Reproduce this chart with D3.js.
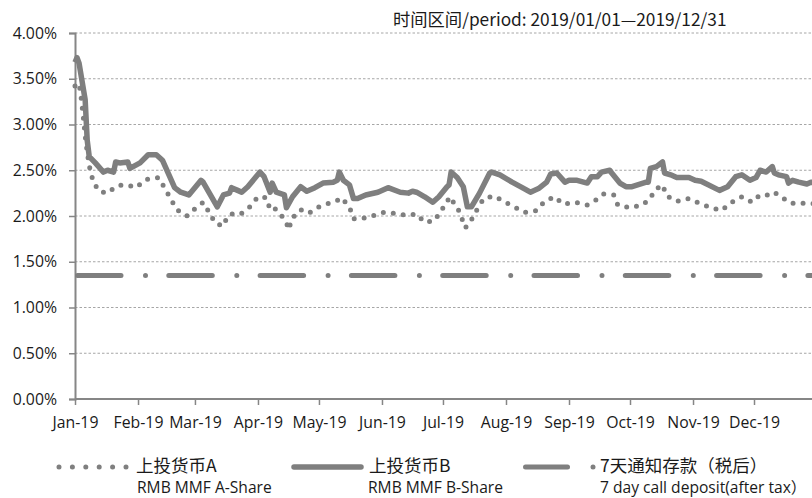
<!DOCTYPE html>
<html>
<head>
<meta charset="utf-8">
<script src="https://cdn.jsdelivr.net/npm/d3@7"></script>
<style>
  body { margin: 0; background: #fff; }
  svg { display: block; }
  text { font-family: "Open Sans", "Noto Sans CJK SC", sans-serif; fill: #1a1a1a; }
  .cjk { font-family: "Noto Sans CJK SC", sans-serif; }
</style>
</head>
<body>
<script>
const W = 812, H = 498;
const plotLeft = 75, plotRight = 815, plotTop = 33, plotBottom = 399;
const grey = "#7f7f7f";

// 上投货币A (dotted)
const datesA = ["2019-01-01","2019-01-03","2019-01-04","2019-01-05","2019-01-06","2019-01-07","2019-01-08","2019-01-10",
  "2019-01-13","2019-01-17","2019-01-21","2019-01-24","2019-01-28","2019-01-31","2019-02-05","2019-02-11","2019-02-14",
  "2019-02-17","2019-02-20","2019-02-25","2019-03-01","2019-03-05","2019-03-08","2019-03-11","2019-03-15","2019-03-17",
  "2019-03-21","2019-03-24","2019-03-28","2019-04-01","2019-04-05","2019-04-07","2019-04-09","2019-04-12","2019-04-15",
  "2019-04-16","2019-04-18","2019-04-22","2019-04-26","2019-05-01","2019-05-06","2019-05-10","2019-05-12","2019-05-16",
  "2019-05-18","2019-05-22","2019-05-27","2019-06-02","2019-06-07","2019-06-12","2019-06-18","2019-06-22","2019-06-27",
  "2019-06-30","2019-07-03","2019-07-04","2019-07-08","2019-07-10","2019-07-12","2019-07-15","2019-07-18","2019-07-21",
  "2019-07-26","2019-07-31","2019-08-05","2019-08-10","2019-08-16","2019-08-20","2019-08-25","2019-08-29","2019-09-04",
  "2019-09-10","2019-09-14","2019-09-18","2019-09-23","2019-09-25","2019-10-01","2019-10-07","2019-10-11","2019-10-13",
  "2019-10-17","2019-10-19","2019-10-24","2019-10-30","2019-11-04","2019-11-10","2019-11-15","2019-11-20","2019-11-25",
  "2019-11-30","2019-12-04","2019-12-09","2019-12-11","2019-12-15","2019-12-19","2019-12-24","2019-12-29","2019-12-31"];
const valuesA = [3.42,3.45,3.30,3.10,2.88,2.70,2.55,2.37,
  2.27,2.25,2.32,2.34,2.33,2.31,2.40,2.42,2.31,
  2.19,2.07,2.00,2.08,2.15,2.04,1.92,1.89,2.00,
  2.04,2.03,2.10,2.21,2.20,2.07,2.09,2.02,1.93,
  1.85,1.98,2.07,2.03,2.10,2.14,2.17,2.20,2.10,
  1.97,1.97,2.00,2.04,2.03,2.01,2.02,1.93,1.95,
  2.06,2.14,2.21,2.10,1.99,1.87,1.96,2.08,2.19,
  2.22,2.16,2.10,2.04,2.06,2.16,2.21,2.13,2.15,
  2.12,2.17,2.24,2.23,2.12,2.09,2.12,2.19,2.28,
  2.34,2.22,2.16,2.19,2.14,2.09,2.06,2.15,2.21,
  2.15,2.23,2.23,2.26,2.20,2.14,2.14,2.14,2.13];

// 上投货币B (solid)
const datesB = ["2019-01-01","2019-01-02","2019-01-03","2019-01-06","2019-01-07","2019-01-08","2019-01-11","2019-01-15",
  "2019-01-17","2019-01-20","2019-01-21","2019-01-23","2019-01-27","2019-01-28","2019-02-02","2019-02-06","2019-02-10",
  "2019-02-13","2019-02-19","2019-02-22","2019-02-26","2019-03-04","2019-03-05","2019-03-12","2019-03-15","2019-03-18",
  "2019-03-19","2019-03-22","2019-03-24","2019-03-27","2019-04-02","2019-04-04","2019-04-07","2019-04-08","2019-04-10",
  "2019-04-14","2019-04-15","2019-04-18","2019-04-22","2019-04-25","2019-04-29","2019-05-03","2019-05-08","2019-05-10",
  "2019-05-11","2019-05-13","2019-05-16","2019-05-18","2019-05-20","2019-05-24","2019-05-30","2019-06-04","2019-06-10",
  "2019-06-14","2019-06-16","2019-06-18","2019-06-22","2019-06-26","2019-06-29","2019-07-03","2019-07-04","2019-07-05",
  "2019-07-08","2019-07-11","2019-07-13","2019-07-15","2019-07-19","2019-07-24","2019-07-25","2019-07-29","2019-08-04",
  "2019-08-09","2019-08-13","2019-08-17","2019-08-21","2019-08-23","2019-08-26","2019-08-30","2019-09-01","2019-09-05",
  "2019-09-10","2019-09-12","2019-09-15","2019-09-17","2019-09-21","2019-09-22","2019-09-26","2019-09-29","2019-10-02",
  "2019-10-09","2019-10-10","2019-10-11","2019-10-14","2019-10-17","2019-10-18","2019-10-21","2019-10-24","2019-10-30",
  "2019-11-02","2019-11-05","2019-11-14","2019-11-18","2019-11-22","2019-11-25","2019-11-29","2019-12-02","2019-12-04",
  "2019-12-07","2019-12-10","2019-12-11","2019-12-13","2019-12-17","2019-12-18","2019-12-20","2019-12-23","2019-12-27",
  "2019-12-29","2019-12-31"];
const valuesB = [3.68,3.73,3.67,3.27,2.83,2.65,2.58,2.48,
  2.50,2.48,2.59,2.58,2.59,2.52,2.58,2.67,2.67,
  2.61,2.31,2.26,2.23,2.39,2.37,2.10,2.23,2.25,
  2.31,2.28,2.26,2.32,2.48,2.43,2.26,2.36,2.26,
  2.23,2.09,2.21,2.32,2.27,2.31,2.36,2.37,2.39,
  2.48,2.39,2.34,2.19,2.19,2.23,2.26,2.31,2.26,
  2.25,2.27,2.26,2.21,2.15,2.21,2.32,2.34,2.48,
  2.42,2.32,2.10,2.10,2.25,2.47,2.48,2.45,2.37,
  2.31,2.26,2.30,2.37,2.46,2.47,2.37,2.39,2.39,
  2.36,2.43,2.43,2.48,2.50,2.47,2.36,2.32,2.32,
  2.37,2.37,2.52,2.54,2.59,2.47,2.45,2.42,2.42,
  2.39,2.38,2.28,2.32,2.43,2.45,2.39,2.42,2.50,
  2.48,2.54,2.47,2.45,2.43,2.36,2.39,2.37,2.35,
  2.37,2.36];

// 7天通知存款（税后）
const depositRate = 1.35;
const depositDates = ["2019-01-01", "2019-12-31"];

const yTicks = [0, 0.5, 1, 1.5, 2, 2.5, 3, 3.5, 4];
const monthTicks = ["2019-01-01","2019-02-01","2019-03-01","2019-04-01","2019-05-01","2019-06-01",
  "2019-07-01","2019-08-01","2019-09-01","2019-10-01","2019-11-01","2019-12-01"];
const monthLabels = ["Jan-19","Feb-19","Mar-19","Apr-19","May-19","Jun-19",
  "Jul-19","Aug-19","Sep-19","Oct-19","Nov-19","Dec-19"];

const parse = d3.timeParse("%Y-%m-%d");

const x = d3.scaleTime()
  .domain([parse("2019-01-01"), parse("2019-12-31")])
  .range([plotLeft, plotRight]);
const y = d3.scaleLinear().domain([0, 4]).range([plotBottom, plotTop]);

const svg = d3.select("body").append("svg")
  .attr("width", W)
  .attr("height", H);

// gridlines
svg.append("g")
  .selectAll("line")
  .data(yTicks.filter(d => d > 0))
  .join("line")
  .attr("x1", plotLeft).attr("x2", W)
  .attr("y1", d => y(d)).attr("y2", d => y(d))
  .attr("stroke", "#a6a6a6")
  .attr("stroke-width", 1)
  .attr("stroke-dasharray", "2.5 2");

// y axis
const yAxis = svg.append("g")
  .attr("transform", `translate(${plotLeft},0)`)
  .call(d3.axisLeft(y).tickValues(yTicks).tickSize(6).tickPadding(12)
    .tickFormat(d => d.toFixed(2) + "%"));
yAxis.select(".domain").attr("stroke", "#868686").attr("stroke-width", 2);
yAxis.selectAll(".tick line").attr("stroke", "#868686").attr("stroke-width", 1.5);
yAxis.selectAll(".tick text").attr("font-size", 15.8).attr("fill", "#1a1a1a")
  .attr("font-family", "Open Sans");

// x axis
const xAxis = svg.append("g")
  .attr("transform", `translate(0,${plotBottom})`)
  .call(d3.axisBottom(x).tickValues(monthTicks.map(parse)).tickSize(6).tickPadding(12)
    .tickFormat((d, i) => monthLabels[i]));
xAxis.select(".domain").attr("stroke", "#868686").attr("stroke-width", 2)
  .attr("d", `M${plotLeft},0H${W}`);
xAxis.selectAll(".tick line").attr("stroke", "#868686").attr("stroke-width", 1.5);
xAxis.selectAll(".tick text").attr("font-size", 15.8).attr("fill", "#1a1a1a")
  .attr("font-family", "Open Sans");

const line = d3.line()
  .x(d => x(d[0]))
  .y(d => y(d[1]));

const seriesA = datesA.map((d, i) => [parse(d), valuesA[i]]);
const seriesB = datesB.map((d, i) => [parse(d), valuesB[i]]);
const seriesC = depositDates.map(d => [parse(d), depositRate]);

svg.append("path")
  .datum(seriesA)
  .attr("d", line)
  .attr("fill", "none")
  .attr("stroke", grey)
  .attr("stroke-width", 5)
  .attr("stroke-linecap", "round")
  .attr("stroke-dasharray", "0 10");

svg.append("path")
  .datum(seriesB)
  .attr("d", line)
  .attr("fill", "none")
  .attr("stroke", grey)
  .attr("stroke-width", 5.5)
  .attr("stroke-linejoin", "round");

svg.append("path")
  .datum(seriesC)
  .attr("d", line)
  .attr("fill", "none")
  .attr("stroke", grey)
  .attr("stroke-width", 5)
  .attr("stroke-linecap", "round")
  .attr("stroke-dasharray", "43.5 24.5 0 23.3")
  .attr("stroke-dashoffset", -2.5);

// title
svg.append("text")
  .attr("class", "cjk")
  .attr("x", 393).attr("y", 26)
  .attr("font-size", 17.3)
  .attr("fill", "#262626")
  .text("时间区间/period: 2019/01/01—2019/12/31");

// legend
const leg = svg.append("g");
const ly = 467;
leg.append("line")
  .attr("x1", 59).attr("x2", 126).attr("y1", ly).attr("y2", ly)
  .attr("stroke", grey).attr("stroke-width", 5)
  .attr("stroke-linecap", "round").attr("stroke-dasharray", "0 13.4");
leg.append("line")
  .attr("x1", 294).attr("x2", 361).attr("y1", ly).attr("y2", ly)
  .attr("stroke", grey).attr("stroke-width", 5.5)
  .attr("stroke-linecap", "round");
leg.append("line")
  .attr("x1", 525.5).attr("x2", 567.5).attr("y1", ly).attr("y2", ly)
  .attr("stroke", grey).attr("stroke-width", 5)
  .attr("stroke-linecap", "round");
leg.append("circle")
  .attr("cx", 593).attr("cy", ly).attr("r", 2.5).attr("fill", grey);

const legendCn = [["上投货币A", 136], ["上投货币B", 369], ["7天通知存款（税后）", 600]];
const legendEn = [["RMB MMF A-Share", 137], ["RMB MMF B-Share", 368], ["7 day call deposit(after tax）", 600]];
leg.selectAll("text.cn")
  .data(legendCn)
  .join("text")
  .attr("class", "cn cjk")
  .attr("x", d => d[1]).attr("y", 472)
  .attr("font-size", 17.5)
  .attr("fill", "#333")
  .text(d => d[0]);
leg.selectAll("text.en")
  .data(legendEn)
  .join("text")
  .attr("class", "en")
  .attr("x", d => d[1]).attr("y", 493)
  .attr("font-size", 15.6)
  .attr("fill", "#1a1a1a")
  .text(d => d[0]);
</script>
</body>
</html>
